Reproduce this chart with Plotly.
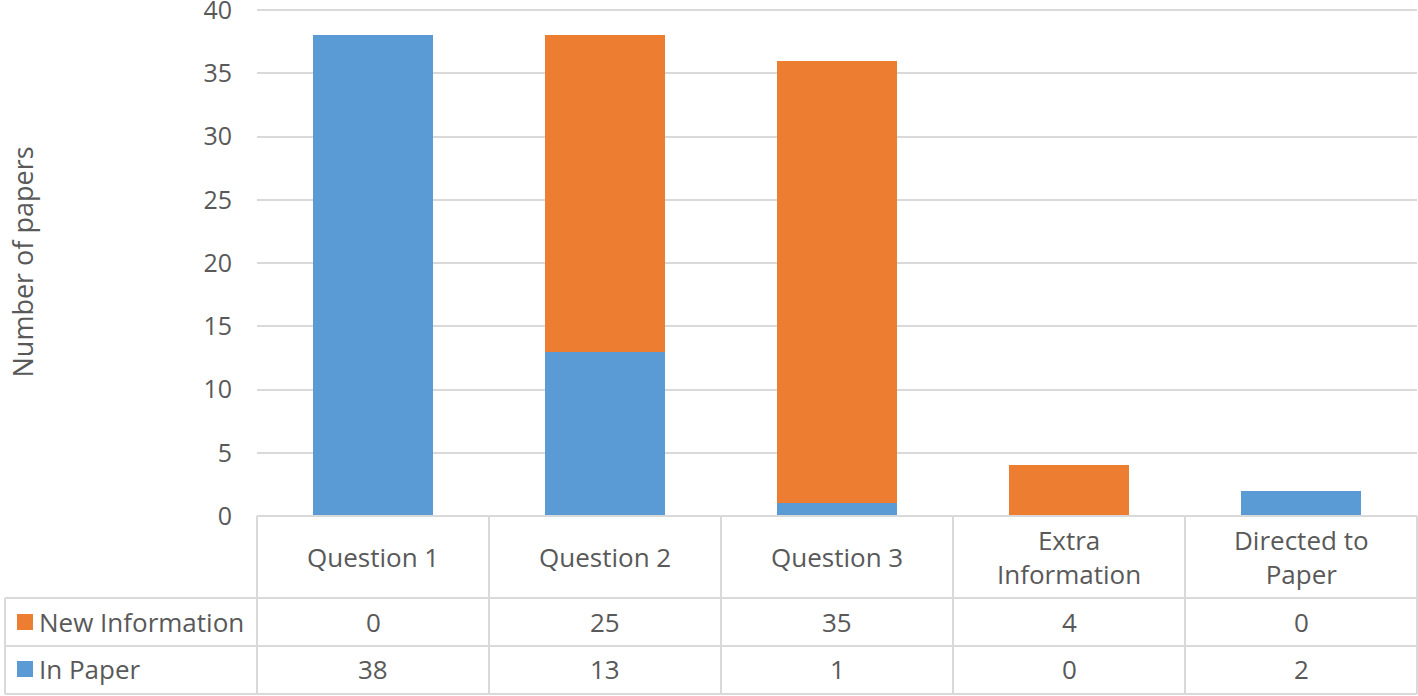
import plotly.graph_objects as go

categories = ["Question 1", "Question 2", "Question 3", "Extra Information", "Directed to Paper"]
header_labels = ["Question 1", "Question 2", "Question 3", "Extra<br>Information", "Directed to<br>Paper"]
in_paper = [38, 13, 1, 0, 2]
new_info = [0, 25, 35, 4, 0]

BLUE = "#5B9BD5"
ORANGE = "#ED7D31"
GRID = "#D9D9D9"
TEXT = "#595959"
FONT = "Open Sans"
FS = 26

W, H = 1418, 696
ML, MR, MT, MB = 257, 1, 4, 180
PLOT_H = H - MT - MB
PLOT_W = W - ML - MR
YMAX = 40 * PLOT_H / 506


def py(pix):
    # pixel row -> paper y
    return (H - MB - pix) / PLOT_H


def px(pix):
    # pixel column -> paper x
    return (pix - ML) / PLOT_W


fig = go.Figure()
fig.add_trace(go.Bar(x=categories, y=in_paper, name="In Paper",
                     marker=dict(color=BLUE, line=dict(width=0)), width=0.52))
fig.add_trace(go.Bar(x=categories, y=new_info, name="New Information",
                     marker=dict(color=ORANGE, line=dict(width=0)), width=0.52))

shapes = []
line = dict(color=GRID, width=2)
n = len(categories)
# table grid
row_lines = [516, 598, 646, 694]
for i, yp in enumerate(row_lines):
    x0 = 0 if i == 0 else px(5)
    shapes.append(dict(type="line", xref="paper", yref="paper",
                       x0=x0, x1=1, y0=py(yp), y1=py(yp), line=line))
for i in range(n + 1):
    shapes.append(dict(type="line", xref="paper", yref="paper",
                       x0=i / n, x1=i / n, y0=py(516), y1=py(694), line=line))
shapes.append(dict(type="line", xref="paper", yref="paper",
                   x0=px(5), x1=px(5), y0=py(598), y1=py(694), line=line))

annotations = []
for cat, lab in zip(categories, header_labels):
    annotations.append(dict(x=cat, xref="x", y=py(557), yref="paper", text=lab,
                            showarrow=False, font=dict(family=FONT, size=FS, color=TEXT),
                            xanchor="center", yanchor="middle"))
rows = [("New Information", new_info, ORANGE, 622), ("In Paper", in_paper, BLUE, 669)]
for name, vals, col, yc in rows:
    for cat, v in zip(categories, vals):
        annotations.append(dict(x=cat, xref="x", y=py(yc), yref="paper", text=str(v),
                                showarrow=False, font=dict(family=FONT, size=FS, color=TEXT),
                                xanchor="center", yanchor="middle"))
    shapes.append(dict(type="rect", xref="paper", yref="paper", x0=px(17), x1=px(33),
                       y0=py(yc - 8), y1=py(yc + 8), fillcolor=col, line=dict(width=0)))
    annotations.append(dict(x=px(37), xref="paper", y=py(yc), yref="paper", text=name,
                            showarrow=False, font=dict(family=FONT, size=FS, color=TEXT),
                            xanchor="left", yanchor="middle"))

annotations.append(dict(x=px(1), xref="paper", y=py(262), yref="paper", text="Number of papers",
                        textangle=-90, showarrow=False,
                        font=dict(family=FONT, size=27, color=TEXT),
                        xanchor="left", yanchor="middle"))

fig.update_layout(
    barmode="stack",
    width=W, height=H,
    margin=dict(l=ML, r=MR, t=MT, b=MB),
    plot_bgcolor="white", paper_bgcolor="white",
    showlegend=False,
    shapes=shapes,
    annotations=annotations,
    xaxis=dict(showticklabels=False, showgrid=False, zeroline=False, automargin=False,
               range=[-0.5, n - 0.5], fixedrange=True),
    yaxis=dict(range=[0, YMAX], dtick=5, showgrid=True, gridcolor=GRID, gridwidth=2,
               zeroline=False, ticks="", ticklabelstandoff=24, ticklabeloverflow="allow",
               automargin=False,
               tickfont=dict(family=FONT, size=25, color=TEXT)),
)

fig.write_html("out.html", config={"displayModeBar": False},
               post_script="document.body.style.margin='0';")
